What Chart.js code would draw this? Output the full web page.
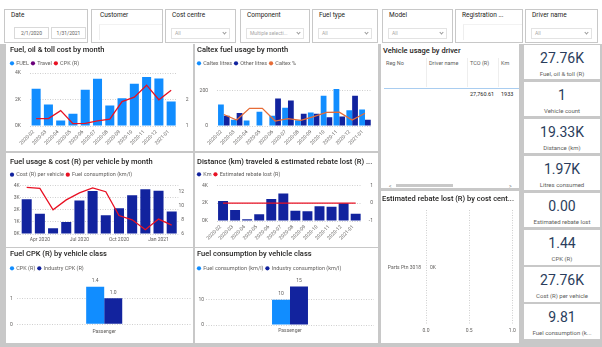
<!DOCTYPE html>
<html>
<head>
<meta charset="utf-8">
<script src="https://cdn.jsdelivr.net/npm/chart.js@4.4.1/dist/chart.umd.min.js"></script>
<style>
*{box-sizing:border-box;margin:0;padding:0}
html,body{width:602px;height:347px;overflow:hidden;background:#fff}
body{position:relative;font-family:Roboto,"Open Sans",sans-serif;color:#252423}
#grey{position:absolute;left:0;top:44px;width:602px;height:303px;background:#c8c8c8}
.panel{position:absolute;background:#fff;overflow:hidden}
.panel canvas{position:absolute;left:0;top:0}
.slicer{position:absolute;top:9px;height:34px;border:1px solid #c8c8c8;background:#fff}
.slicer .lbl{position:absolute;left:6px;top:1px;font-size:6.5px;line-height:9px;color:#252423;white-space:nowrap}
.slicer .dd{position:absolute;left:5px;right:5px;top:18px;height:11px;border:1px solid #e3e3e3;font-size:5px;line-height:9px;color:#a6a6a6;padding-left:3px;white-space:nowrap;overflow:hidden}
.chev{position:absolute;right:3px;top:2px;width:3px;height:3px;border-right:0.7px solid #9a9a9a;border-bottom:0.7px solid #9a9a9a;transform:rotate(45deg)}
.slicer .box{position:absolute;left:7px;right:0;top:14px;bottom:2px;border-left:1px solid #eeeeee;border-top:1px solid #f2f2f2}
.dt{position:absolute;top:17px;height:12px;border:1px solid #d9d9d9;font-size:5px;line-height:10px;text-align:center;color:#605e5c}
.card{position:absolute;left:524px;width:76px;height:34.5px;background:#fff;text-align:center}
.card .v{position:absolute;left:0;right:0;top:5px;font-size:14px;line-height:16px;color:#2a3d5c}
.card .l{position:absolute;left:0;right:0;top:25px;font-size:6px;line-height:7px;color:#605e5c;white-space:nowrap}
.ptitle{position:absolute;font-size:7.5px;line-height:9px;font-weight:500;color:#252423;white-space:nowrap}
.th{position:absolute;top:16px;font-size:5.5px;line-height:7px;color:#605e5c;white-space:nowrap}
.sep{position:absolute;top:14px;height:29px;width:1px;background:#eeeeee}
.td{position:absolute;top:47px;font-size:5.5px;line-height:7px;color:#252423;white-space:nowrap}
</style>
</head>
<body>
<div id="grey"></div>

<!-- slicers -->
<div class="slicer" style="left:4px;width:84px"><div class="lbl">Date</div>
  <div class="dt" style="left:9px;width:35px" id="d1"></div><div class="dt" style="left:46px;width:35px" id="d2"></div></div>
<div class="slicer" style="left:91px;width:72px"><div class="lbl" style="left:8px">Customer</div><div class="box"></div></div>
<div class="slicer" style="left:165px;width:71px"><div class="lbl">Cost centre</div><div class="dd">All<span class="chev"></span></div></div>
<div class="slicer" style="left:240px;width:70px"><div class="lbl">Component</div><div class="dd">Multiple selecti...<span class="chev"></span></div></div>
<div class="slicer" style="left:312px;width:66px"><div class="lbl">Fuel type</div><div class="dd">All<span class="chev"></span></div></div>
<div class="slicer" style="left:382px;width:71px"><div class="lbl">Model</div><div class="dd">All<span class="chev"></span></div></div>
<div class="slicer" style="left:455px;width:68px"><div class="lbl">Registration ...</div><div class="box"></div></div>
<div class="slicer" style="left:525px;width:73px"><div class="lbl">Driver name</div><div class="dd">All<span class="chev"></span></div></div>

<div class="panel" style="left:6px;top:44px;width:187px;height:107px"><canvas id="c1" width="187" height="107"></canvas></div>
<div class="panel" style="left:195px;top:44px;width:183px;height:107px"><canvas id="c2" width="183" height="107"></canvas></div>
<div class="panel" style="left:6px;top:153px;width:187px;height:94px"><canvas id="c3" width="187" height="94"></canvas></div>
<div class="panel" style="left:195px;top:153px;width:183px;height:94px"><canvas id="c4" width="183" height="94"></canvas></div>
<div class="panel" style="left:6px;top:248px;width:187px;height:95px"><canvas id="c5" width="187" height="95"></canvas></div>
<div class="panel" style="left:195px;top:248px;width:183px;height:95px"><canvas id="c6" width="183" height="95"></canvas></div>

<!-- table -->
<div class="panel" id="tbl" style="left:381px;top:44px;width:138px;height:144px">
  <div class="ptitle" style="left:2px;top:2px">Vehicle usage by driver</div>
  <div class="sep" style="left:45px"></div><div class="sep" style="left:86px"></div><div class="sep" style="left:117px"></div>
  <div style="position:absolute;left:3px;top:44px;width:135px;height:1px;background:#a9cdf0"></div>
  <div style="position:absolute;left:8px;top:139px;font-size:5px;line-height:6px;color:#777">&lt;</div>
  <div style="position:absolute;left:15px;top:140px;width:57px;height:3px;background:#c8c8c8"></div>
  <div style="position:absolute;left:128px;top:139px;font-size:5px;line-height:6px;color:#777">&gt;</div>
</div>
<div class="panel" style="left:381px;top:191px;width:138px;height:152px"><canvas id="c7" width="138" height="152"></canvas></div>

<div id="cards"></div>

<script>
// ---------------- data ----------------
const dateRange = ['2/1/2020', '1/31/2021'];
const months = ['2020-02','2020-03','2020-04','2020-05','2020-06','2020-07','2020-08','2020-09','2020-10','2020-11','2020-12','2021-01'];
const fuelCost = [2820,1620,410,920,2740,3560,1540,2100,3180,3690,3590,1850];
const travelCost = [0,0,0,0,0,0,0,0,0,0,0,0];
const cpkByMonth = [1.28,1.28,1.58,1.09,1.10,1.19,1.26,1.92,2.09,2.54,1.99,2.35];
const costTicks = [0, 2000, 4000];
const costTickLabels = ['0K','2K','4K'];
const cpkTicks = [1, 2];

const caltexLitres = [122,35,31,80,58,103,33,76,171,210,89,93];
const otherLitres = [58,74,0,0,155,144,70,70,50,54,171,35];
const caltexPct = [0.65,0.34,1.0,1.0,0.28,0.42,0.32,0.53,0.77,0.78,0.34,0.72];
const litreTicks = [0, 200];

const costPerVehicle = [2880,1670,470,990,2770,3560,1560,2140,3200,3700,3590,1860];
const fuelConsumption = [12.56,12.42,9.4,10.8,11.8,12.5,11.95,8.6,8.0,6.6,8.1,7.26];
const perVehicleDateLabels = ['','Apr 2020','','','Jul 2020','','','Oct 2020','','','Jan 2021',''];
const costTicks4 = [0,1000,2000,3000,4000];
const costTickLabels4 = ['0K','1K','2K','3K','4K'];
const consumptionTicks = [6,8,10,12];

const kmByMonth = [2240,1230,190,750,2470,3070,1160,1080,1640,1610,1980,820];
const rebateByMonth = [0,0,0,0,0,0,0,0,0,0,0,0];
const rebateTicks = [-1,0,1];

const vehicleClasses = ['Passenger'];
const cpkByClass = [1.44];
const industryCpkByClass = [1.0];
const cpkClassTicks = [0, 1];
const consumptionByClass = [9.81];
const industryConsumptionByClass = [15];
const consumptionClassTicks = [0, 10];

const costCentres = ['Parts Ptn 3018'];
const rebateByCentre = [0];
const rebateCentreTicks = [0, 0.5, 1];

const tableHeaders = ['Reg No','Driver name','TCO (R)','Km'];
const tableRow = ['', '', '27,760.61', '1933'];

const kpiValues = ['27.76K','1','19.33K','1.97K','0.00','1.44','27.76K','9.81'];
const kpiLabels = ['Fuel, oil & toll (R)','Vehicle count','Distance (km)','Litres consumed','Estimated rebate lost','CPK (R)','Cost (R) per vehicle','Fuel consumption (k...'];

// ---------------- html parts ----------------
document.getElementById('d1').textContent = dateRange[0];
document.getElementById('d2').textContent = dateRange[1];
const cardsEl = document.getElementById('cards');
kpiValues.forEach((v, i) => {
  const c = document.createElement('div');
  c.className = 'card';
  c.style.top = (44.5 + 37.1 * i) + 'px';
  c.innerHTML = '<div class="v"></div><div class="l"></div>';
  c.querySelector('.v').textContent = v;
  c.querySelector('.l').textContent = kpiLabels[i];
  cardsEl.appendChild(c);
});
const tbl = document.getElementById('tbl');
const colX = [5, 48, 89, 120];
tableHeaders.forEach((h, i) => {
  const d = document.createElement('div'); d.className = 'th'; d.style.left = colX[i] + 'px'; d.textContent = h; tbl.appendChild(d);
  const t = document.createElement('div'); t.className = 'td'; t.style.left = colX[i] + 'px'; t.textContent = tableRow[i]; tbl.appendChild(t);
});

// ---------------- charts ----------------
const FONT = 'Roboto, "Open Sans", sans-serif';
Chart.defaults.font.family = FONT;
Chart.defaults.font.size = 5;
Chart.defaults.color = '#605e5c';
Chart.defaults.animation = false;
Chart.defaults.responsive = false;
Chart.defaults.maintainAspectRatio = false;
Chart.defaults.plugins.tooltip.enabled = false;

const LEG_PAD = 2.5;
const LEG_FONT = 5.5;
Chart.register({
  id:'legendShift',
  afterLayout(chart) {
    if (chart.legend && chart.options.plugins.legend.display) { chart.legend.left -= (LEG_PAD - 0.5); chart.legend.right -= (LEG_PAD - 0.5); }
  }
});

const LIGHT = '#118DFF', DARK = '#12239E', RED = '#E81123', ORANGE = '#E66C37', PURPLE = '#6B007B';
const GRID = {color:'#cfcfcf', lineWidth:1, drawTicks:false};
const NOGRID = {display:false, drawTicks:false};
const DOT = {display:false, dash:[1,1.5]};
const setTicks = vals => axis => { axis.ticks = vals.map(v => ({value:v})); };
const setW = w => axis => { axis.width = w; };
const setH = h => axis => { axis.height = h; };

function head(text, c1, c2, top) {
  const tTop = c1 - 4.5;
  const legendTop = c2 - LEG_PAD - LEG_FONT / 2;
  const tBot = legendTop - tTop - 9;
  return {
    title:{display:true, text, align:'start', color:'#252423', font:{size:7.5, weight:'500'}, padding:{top:tTop, bottom:tBot}},
    legend:{display:true, align:'start', maxHeight: top - legendTop,
      labels:{usePointStyle:true, pointStyle:'circle', boxWidth:3, boxHeight:3, padding:LEG_PAD, font:{size:LEG_FONT}, color:'#605e5c',
        sort:(a,b) => a.datasetIndex - b.datasetIndex,
        generateLabels(chart) {
          const items = Chart.defaults.plugins.legend.labels.generateLabels(chart);
          items.forEach(it => { it.lineWidth = 0; it.strokeStyle = it.fillStyle; it.pointStyle = 'circle'; it.rotation = 0; });
          return items;
        }}}
  };
}

const barLabels = {
  id:'barLabels',
  afterDatasetsDraw(chart, args, opts) {
    if (!opts || !opts.enabled) return;
    const ctx = chart.ctx;
    ctx.save();
    ctx.font = '5px ' + FONT;
    ctx.fillStyle = '#605e5c';
    ctx.textBaseline = 'middle';
    chart.data.datasets.forEach((ds, i) => {
      chart.getDatasetMeta(i).data.forEach((el, j) => {
        const txt = opts.format(ds.data[j]);
        if (chart.options.indexAxis === 'y') { ctx.textAlign = 'left'; ctx.fillText(txt, el.x + opts.offset, el.y); }
        else { ctx.textAlign = 'center'; ctx.fillText(txt, el.x, el.y - opts.offset); }
      });
    });
    ctx.restore();
  }
};

const rotX = h => ({grid:NOGRID, border:{display:false}, ticks:{minRotation:45, maxRotation:45, autoSkip:false, padding:3, labelOffset:-2.5}, afterFit:setH(h)});

// 1. Fuel, oil & toll cost by month
new Chart(document.getElementById('c1'), {
  data:{labels:months, datasets:[
    {type:'bar', label:'FUEL', data:fuelCost, backgroundColor:LIGHT, order:1, stack:'s', categoryPercentage:0.8, barPercentage:0.92},
    {type:'bar', label:'Travel', data:travelCost, backgroundColor:PURPLE, order:1, stack:'s', categoryPercentage:0.8, barPercentage:0.92},
    {type:'line', label:'CPK (R)', data:cpkByMonth, borderColor:RED, backgroundColor:RED, borderWidth:1.3, pointRadius:0, order:0, yAxisID:'y1'}
  ]},
  options:{
    layout:{padding:{left:4, right:0, top:0, bottom:0}},
    plugins:head('Fuel, oil & toll cost by month', 6, 19.3, 29),
    scales:{
      x:Object.assign({stacked:true}, rotX(25)),
      y:{stacked:true, min:0, max:4000, afterBuildTicks:setTicks(costTicks), ticks:{padding:9, callback:(v,i)=>costTickLabels[i]}, grid:GRID, border:DOT, afterFit:setW(20)},
      y1:{position:'right', min:1, max:3, afterBuildTicks:setTicks(cpkTicks), ticks:{padding:8.4}, grid:NOGRID, border:{display:false}, afterFit:setW(15.7)}
    }
  }
});

// 2. Caltex fuel usage by month
new Chart(document.getElementById('c2'), {
  data:{labels:months, datasets:[
    {type:'bar', label:'Caltex litres', data:caltexLitres, backgroundColor:LIGHT, order:1, categoryPercentage:0.9, barPercentage:1},
    {type:'bar', label:'Other litres', data:otherLitres, backgroundColor:DARK, order:1, categoryPercentage:0.9, barPercentage:1},
    {type:'line', label:'Caltex %', data:caltexPct, borderColor:ORANGE, backgroundColor:ORANGE, borderWidth:1.3, pointRadius:0, order:0, yAxisID:'y1'}
  ]},
  options:{
    layout:{padding:{left:2, right:6.6, top:0, bottom:0}},
    plugins:head('Caltex fuel usage by month', 6, 19.3, 29),
    scales:{
      x:rotX(25),
      y:{min:0, max:300, afterBuildTicks:setTicks(litreTicks), ticks:{padding:9.4}, grid:GRID, border:DOT, afterFit:setW(20.4)},
      y1:{display:false, position:'right', min:0, max:3}
    }
  }
});

// 3. Fuel usage & cost (R) per vehicle by month
new Chart(document.getElementById('c3'), {
  data:{labels:months, datasets:[
    {type:'bar', label:'Cost (R) per vehicle', data:costPerVehicle, backgroundColor:DARK, order:1, categoryPercentage:0.8, barPercentage:0.95},
    {type:'line', label:'Fuel consumption (km/l)', data:fuelConsumption, borderColor:RED, backgroundColor:RED, borderWidth:1.3, pointRadius:0, order:0, yAxisID:'y1'}
  ]},
  options:{
    layout:{padding:{left:4, right:9, top:0, bottom:0}},
    plugins:head('Fuel usage & cost (R) per vehicle by month', 9, 21.7, 32.7),
    scales:{
      x:{grid:NOGRID, border:{display:false}, ticks:{maxRotation:0, minRotation:0, autoSkip:false, padding:2.5, callback:(v,i)=>perVehicleDateLabels[i]}, afterFit:setH(13)},
      y:{min:0, max:4000, afterBuildTicks:setTicks(costTicks4), ticks:{padding:0.5, callback:(v,i)=>costTickLabels4[i]}, grid:GRID, border:DOT, afterFit:setW(10.1)},
      y1:{position:'right', min:6, max:12.8, afterBuildTicks:setTicks(consumptionTicks), ticks:{padding:0.5, crossAlign:'far'}, grid:NOGRID, border:{display:false}, afterFit:setW(5.7)}
    }
  }
});

// 4. Distance (km) traveled & estimated rebate lost (R)
new Chart(document.getElementById('c4'), {
  data:{labels:months, datasets:[
    {type:'bar', label:'Km', data:kmByMonth, backgroundColor:DARK, order:1, categoryPercentage:0.85, barPercentage:0.97},
    {type:'line', label:'Estimated rebate lost (R)', data:rebateByMonth, borderColor:RED, backgroundColor:RED, borderWidth:1.3, pointRadius:0, order:0, yAxisID:'y1'}
  ]},
  options:{
    layout:{padding:{left:2, right:5, top:0, bottom:0}},
    plugins:head('Distance (km) traveled & estimated rebate lost (R) ...', 9.5, 21.3, 32.3),
    scales:{
      x:rotX(26),
      y:{min:0, max:4000, afterBuildTicks:setTicks(costTicks), ticks:{padding:9, callback:(v,i)=>costTickLabels[i]}, grid:GRID, border:DOT, afterFit:setW(20)},
      y1:{position:'right', min:-1, max:1, afterBuildTicks:setTicks(rebateTicks), ticks:{padding:3, crossAlign:'far'}, grid:NOGRID, border:{display:false}, afterFit:setW(11.3)}
    }
  }
});

// 5. Fuel CPK (R) by vehicle class
new Chart(document.getElementById('c5'), {
  type:'bar',
  data:{labels:vehicleClasses, datasets:[
    {label:'CPK (R)', data:cpkByClass, backgroundColor:LIGHT, categoryPercentage:0.206, barPercentage:1},
    {label:'Industry CPK (R)', data:industryCpkByClass, backgroundColor:DARK, categoryPercentage:0.206, barPercentage:1}
  ]},
  plugins:[barLabels],
  options:{
    layout:{padding:{left:4, right:1.3, top:0, bottom:0}},
    plugins:Object.assign(head('Fuel CPK (R) by vehicle class', 6.3, 20.3, 24.3), {barLabels:{enabled:true, offset:6, format:v=>v.toFixed(1)}}),
    scales:{
      x:{grid:NOGRID, border:{display:false}, ticks:{padding:4}, afterFit:setH(18.7)},
      y:{min:0, max:2, afterBuildTicks:setTicks(cpkClassTicks), ticks:{padding:4}, grid:GRID, border:DOT, afterFit:setW(6.7)}
    }
  }
});

// 6. Fuel consumption by vehicle class
new Chart(document.getElementById('c6'), {
  type:'bar',
  data:{labels:vehicleClasses, datasets:[
    {label:'Fuel consumption (km/l)', data:consumptionByClass, backgroundColor:LIGHT, categoryPercentage:0.214, barPercentage:1},
    {label:'Industry consumption (km/l)', data:industryConsumptionByClass, backgroundColor:DARK, categoryPercentage:0.214, barPercentage:1}
  ]},
  plugins:[barLabels],
  options:{
    layout:{padding:{left:2, right:4, top:0, bottom:0}},
    plugins:Object.assign(head('Fuel consumption by vehicle class', 6, 20.3, 25.6), {barLabels:{enabled:true, offset:6, format:v=>v.toFixed(0)}}),
    scales:{
      x:{grid:NOGRID, border:{display:false}, ticks:{padding:3.2}, afterFit:setH(18)},
      y:{min:0, max:20, afterBuildTicks:setTicks(consumptionClassTicks), ticks:{padding:2}, grid:GRID, border:DOT, afterFit:setW(9)}
    }
  }
});

// 7. Estimated rebate lost (R) by cost centre
new Chart(document.getElementById('c7'), {
  type:'bar',
  data:{labels:costCentres, datasets:[
    {label:'Estimated rebate lost (R)', data:rebateByCentre, backgroundColor:LIGHT, categoryPercentage:0.5, barPercentage:1}
  ]},
  plugins:[barLabels],
  options:{
    indexAxis:'y',
    layout:{padding:{left:1, right:5, top:0, bottom:0}},
    plugins:{
      title:{display:true, text:'Estimated rebate lost (R) by cost cent...', align:'start', color:'#252423', font:{size:7.5, weight:'500'}, padding:{top:3.5, bottom:6.5}},
      legend:{display:false},
      barLabels:{enabled:true, offset:4, format:v=>(v/1000).toFixed(0)+'K'}
    },
    scales:{
      x:{min:0, max:1, afterBuildTicks:setTicks(rebateCentreTicks), ticks:{padding:3.2, callback:v=>v.toFixed(1)}, grid:GRID, border:DOT, afterFit:setH(18)},
      y:{grid:NOGRID, border:{display:false}, ticks:{padding:5}, afterFit:setW(44)}
    }
  }
});
</script>
</body>
</html>
